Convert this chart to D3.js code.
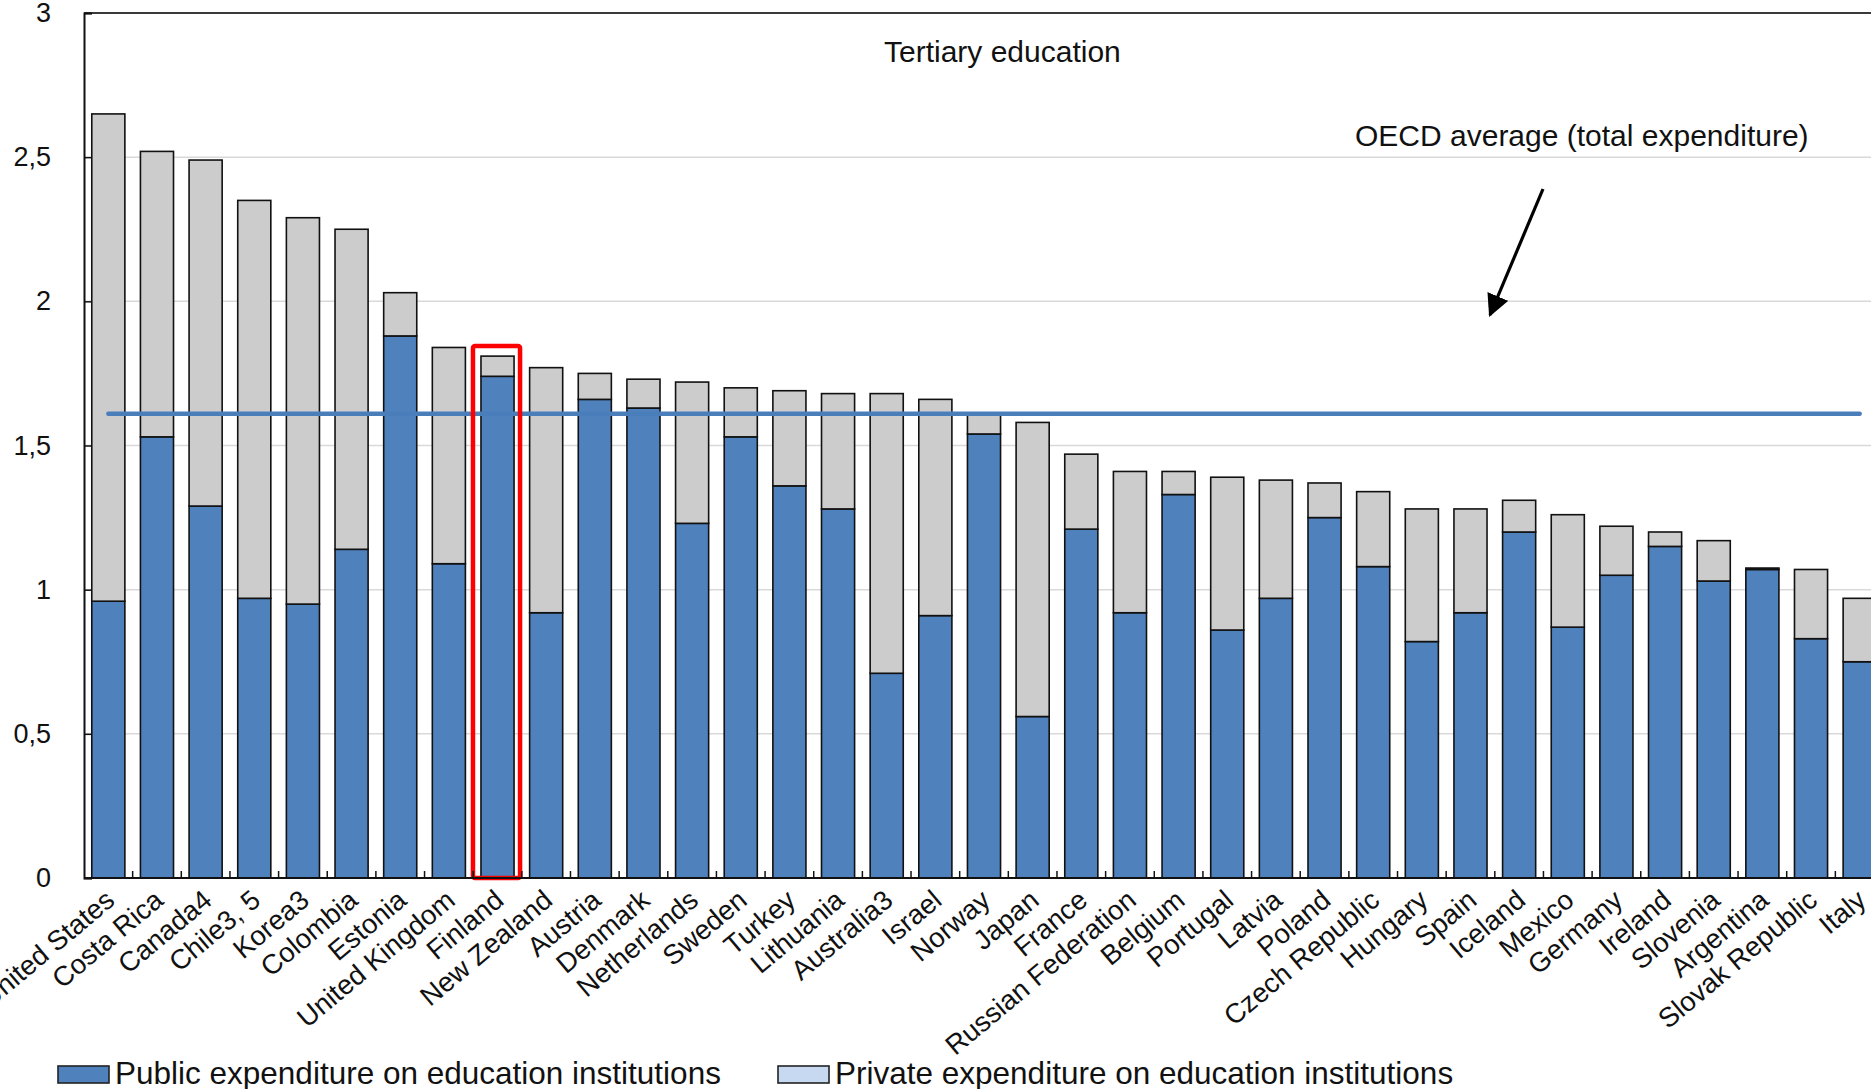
<html>
<head>
    <meta http-equiv="Content-Type" content="text/html;charset=UTF-8">
    <title>Tertiary education</title>
    <style type="text/css">
        *{margin: 0;padding: 0;}
        body{background: #fff;}
        svg{display: block;}
        text{font-family: "Liberation Sans", Arial, sans-serif; fill: #111;}
    </style>
</head>
<body>
    <div class="container"></div>
    <script type="text/javascript" src="https://cdnjs.cloudflare.com/ajax/libs/d3/7.8.5/d3.min.js"></script>
    <script>
        // categories
        var countries = ["United States", "Costa Rica", "Canada4", "Chile3, 5", "Korea3", "Colombia", "Estonia",
            "United Kingdom", "Finland", "New Zealand", "Austria", "Denmark", "Netherlands", "Sweden", "Turkey",
            "Lithuania", "Australia3", "Israel", "Norway", "Japan", "France", "Russian Federation", "Belgium",
            "Portugal", "Latvia", "Poland", "Czech Republic", "Hungary", "Spain", "Iceland", "Mexico", "Germany",
            "Ireland", "Slovenia", "Argentina", "Slovak Republic", "Italy"];

        // public expenditure (% of GDP)
        var publicExp = [0.96, 1.53, 1.29, 0.97, 0.95, 1.14, 1.88,
            1.09, 1.74, 0.92, 1.66, 1.63, 1.23, 1.53, 1.36,
            1.28, 0.71, 0.91, 1.54, 0.56, 1.21, 0.92, 1.33,
            0.86, 0.97, 1.25, 1.08, 0.82, 0.92, 1.20, 0.87, 1.05,
            1.15, 1.03, 1.07, 0.83, 0.75];

        // private expenditure (% of GDP), stacked on top
        var privateExp = [1.69, 0.99, 1.20, 1.38, 1.34, 1.11, 0.15,
            0.75, 0.07, 0.85, 0.09, 0.10, 0.49, 0.17, 0.33,
            0.40, 0.97, 0.75, 0.07, 1.02, 0.26, 0.49, 0.08,
            0.53, 0.41, 0.12, 0.26, 0.46, 0.36, 0.11, 0.39, 0.17,
            0.05, 0.14, 0.005, 0.24, 0.22];

        var yTicks = [0, 0.5, 1, 1.5, 2, 2.5, 3];
        var oecdAverage = 1.61;
        var highlight = "Finland";

        var width = 1871;
        var height = 1089;
        var plotLeft = 84, plotTop = 13, plotBottom = 878, plotRight = 1884;

        var blue = "#4f81bd", grey = "#cccccc", lightBlue = "#c6d9f1";

        var svg = d3.select(".container")
            .append("svg")
            .attr("width", width)
            .attr("height", height);

        var rows = countries.map(function (c, i) {
            return {country: c, pub: publicExp[i], priv: privateExp[i]};
        });

        var x = d3.scaleBand()
            .domain(countries)
            .range([plotLeft, plotRight])
            .paddingInner(0.32)
            .paddingOuter(0.16);

        var y = d3.scaleLinear()
            .domain([0, 3])
            .range([plotBottom, plotTop]);

        // gridlines
        svg.append("g").selectAll("line")
            .data(yTicks.filter(function (d) { return d > 0 && d < 3; }))
            .enter()
            .append("line")
            .attr("x1", plotLeft).attr("x2", width)
            .attr("y1", function (d) { return y(d); })
            .attr("y2", function (d) { return y(d); })
            .attr("stroke", "#d9d9d9")
            .attr("stroke-width", 1.5);

        // top border of plot area
        svg.append("line")
            .attr("x1", plotLeft).attr("x2", width)
            .attr("y1", y(3)).attr("y2", y(3))
            .attr("stroke", "#3a3a3a")
            .attr("stroke-width", 2);

        // stacked bars
        var stack = d3.stack().keys(["pub", "priv"]);
        var series = stack(rows);
        var colors = {pub: blue, priv: grey};

        svg.append("g").selectAll("g")
            .data(series)
            .enter()
            .append("g")
            .attr("fill", function (s) { return colors[s.key]; })
            .selectAll("rect")
            .data(function (s) { return s; })
            .enter()
            .append("rect")
            .attr("x", function (d) { return x(d.data.country); })
            .attr("y", function (d) { return y(d[1]); })
            .attr("width", x.bandwidth())
            .attr("height", function (d) { return y(d[0]) - y(d[1]); })
            .attr("stroke", "#111")
            .attr("stroke-width", 1.6);

        // OECD average line, from first to last bar centre
        svg.append("line")
            .attr("x1", x(countries[0]) + x.bandwidth() / 2)
            .attr("x2", x(countries[countries.length - 1]) + x.bandwidth() / 2)
            .attr("y1", y(oecdAverage))
            .attr("y2", y(oecdAverage))
            .attr("stroke", "#4a7ebb")
            .attr("stroke-width", 4.5)
            .attr("stroke-linecap", "round");

        // red box around highlighted country
        var hi = rows[countries.indexOf(highlight)];
        var boxTop = y(hi.pub + hi.priv) - 10;
        svg.append("rect")
            .attr("x", x(highlight) - 8)
            .attr("y", boxTop)
            .attr("width", x.bandwidth() + 14)
            .attr("height", plotBottom - boxTop)
            .attr("rx", 2)
            .attr("fill", "none")
            .attr("stroke", "#ff0000")
            .attr("stroke-width", 4.5);

        // y axis
        var yAxis = d3.axisLeft(y)
            .tickValues(yTicks)
            .tickSize(-8)
            .tickPadding(33)
            .tickFormat(function (d) { return String(d).replace(".", ","); });

        var yg = svg.append("g")
            .attr("transform", "translate(" + plotLeft + ",0)")
            .call(yAxis);
        yg.select(".domain").attr("stroke", "#111").attr("stroke-width", 2);
        yg.selectAll(".tick line").attr("stroke", "#111").attr("stroke-width", 1.5);
        yg.selectAll(".tick text")
            .style("font-size", "27px")
            .style("fill", "#111")
            .style("font-family", "Liberation Sans, Arial, sans-serif");

        // x axis: baseline and ticks between bars
        svg.append("line")
            .attr("x1", plotLeft).attr("x2", width)
            .attr("y1", plotBottom).attr("y2", plotBottom)
            .attr("stroke", "#111")
            .attr("stroke-width", 2);

        svg.append("g").selectAll("line")
            .data(countries.slice(1))
            .enter()
            .append("line")
            .attr("x1", function (d) { return x(d) - x.step() * 0.16; })
            .attr("x2", function (d) { return x(d) - x.step() * 0.16; })
            .attr("y1", plotBottom)
            .attr("y2", plotBottom - 7)
            .attr("stroke", "#111")
            .attr("stroke-width", 1.5);

        // category labels
        svg.append("g").selectAll("text")
            .data(countries)
            .enter()
            .append("text")
            .attr("transform", function (d) {
                return "translate(" + (x(d) + x.bandwidth() / 2 + 8) + "," + (plotBottom + 25) + ") rotate(-40)";
            })
            .attr("text-anchor", "end")
            .style("font-size", "27.5px")
            .text(function (d) { return d; });

        // title
        svg.append("text")
            .attr("x", 884)
            .attr("y", 62)
            .style("font-size", "30px")
            .text("Tertiary education");

        // OECD annotation and arrow
        svg.append("text")
            .attr("x", 1355)
            .attr("y", 146)
            .style("font-size", "30px")
            .text("OECD average (total expenditure)");

        svg.append("defs").append("marker")
            .attr("id", "arrow")
            .attr("viewBox", "0 0 10 10")
            .attr("refX", 9)
            .attr("refY", 5)
            .attr("markerWidth", 7)
            .attr("markerHeight", 7)
            .attr("markerUnits", "strokeWidth")
            .attr("orient", "auto")
            .append("path")
            .attr("d", "M0,0L10,5L0,10Z")
            .attr("fill", "#000");

        svg.append("line")
            .attr("x1", 1543).attr("y1", 189)
            .attr("x2", 1490).attr("y2", 315)
            .attr("stroke", "#000")
            .attr("stroke-width", 3.2)
            .attr("marker-end", "url(#arrow)");

        // legend
        var legend = [
            {label: "Public expenditure on education institutions", color: blue, x: 58},
            {label: "Private expenditure on education institutions", color: lightBlue, x: 778}
        ];
        var lg = svg.append("g").selectAll("g")
            .data(legend)
            .enter()
            .append("g")
            .attr("transform", function (d) { return "translate(" + d.x + ",1066)"; });
        lg.append("rect")
            .attr("width", 51)
            .attr("height", 17)
            .attr("fill", function (d) { return d.color; })
            .attr("stroke", "#222")
            .attr("stroke-width", 1.6);
        lg.append("text")
            .attr("x", 57)
            .attr("y", 18)
            .style("font-size", "31.5px")
            .text(function (d) { return d.label; });
    </script>
</body>
</html>
